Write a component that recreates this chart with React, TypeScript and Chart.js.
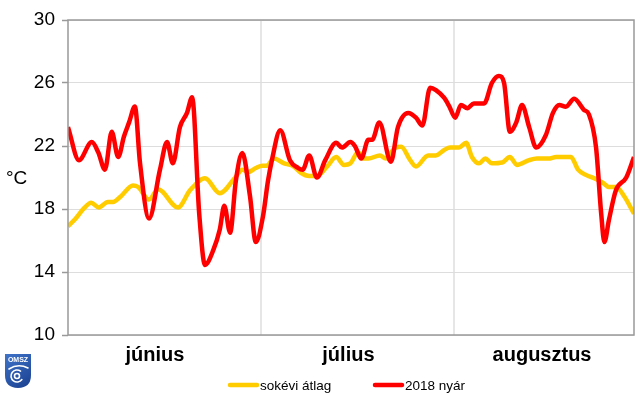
import { useEffect, useRef } from "react";
import { Chart, registerables } from "chart.js";

Chart.register(...registerables);

// Month labels (centered) and month boundaries on a day axis (0 = June 1)
const monthLabels = ["június", "július", "augusztus"];
const monthCenters = [13.5, 43.6, 73.7];
const monthBoundaries = [30, 60];
const dayMin = 0;
const dayMax = 88;

// Y axis
const yMin = 10;
const yMax = 30;
const yStep = 4;
const yTitle = "°C";

// Series: multi-year average (sokévi átlag)
const avgName = "sokévi átlag";
const avgDays = [
  0, 1.2, 2.5, 3.6, 4.8, 6.2, 7.0, 8.2, 10.1, 10.9, 12.6, 14.0, 17.1, 19.0, 21.3,
  23.6, 26.0, 27.1, 28.0, 29.2, 30.2, 30.9, 32.0, 33.6, 35.1, 36.2, 37.5, 38.7,
  40.3, 41.7, 42.9, 43.9, 45.1, 45.9, 46.7, 48.5, 49.4, 50.9, 51.8, 53.2, 54.1,
  56.0, 57.2, 58.5, 59.4, 60.8, 61.9, 62.8, 63.9, 64.9, 65.9, 67.5, 68.7, 69.8,
  71.7, 72.9, 74.7, 75.9, 78.2, 79.3, 80.6, 81.8, 83.2, 84.1, 85.2, 86.5, 88.0,
];
const avgTemps = [
  16.9, 17.4, 18.05, 18.4, 18.1, 18.45, 18.45, 18.8, 19.5, 19.4, 18.6, 19.25, 18.1,
  19.2, 19.95, 19.0, 20.0, 20.5, 20.35, 20.6, 20.75, 20.75, 21.2, 20.9, 20.7, 20.3,
  20.1, 20.1, 20.7, 21.3, 20.8, 20.9, 21.6, 21.2, 21.2, 21.4, 21.2, 21.9, 21.95,
  21.1, 20.7, 21.4, 21.4, 21.75, 21.9, 21.9, 22.2, 21.3, 20.9, 21.2, 20.9, 20.95,
  21.3, 20.8, 21.1, 21.2, 21.2, 21.3, 21.3, 20.5, 20.15, 19.95, 19.65, 19.4, 19.4,
  18.8, 17.7,
];

// Series: summer 2018 (2018 nyár)
const yearName = "2018 nyár";
const yearDays = [
  0, 1.7, 3.7, 4.7, 5.75, 6.8, 7.8, 8.7, 9.5, 10.4, 11.2, 12.6, 14.3, 15.4, 16.3,
  17.4, 18.5, 19.3, 20.4, 21.3, 22.6, 23.6, 24.3, 25.2, 26.1, 27.1, 28.3, 29.2,
  30.3, 31.1, 31.7, 33.0, 34.5, 35.8, 36.5, 37.5, 38.7, 40.0, 41.7, 42.6, 43.9,
  44.6, 45.6, 46.7, 47.3, 48.4, 50.2, 51.3, 52.9, 54.1, 55.1, 56.3, 57.2, 58.5,
  59.3, 60.2, 61.1, 62.1, 63.1, 64.7, 65.9, 67.0, 67.8, 68.7, 69.7, 70.6, 71.7,
  72.8, 74.3, 75.4, 76.4, 77.4, 78.7, 80.2, 81.0, 82.1, 82.9, 83.4, 84.1, 85.2,
  86.8, 88.0,
];
const yearTemps = [
  23.2, 21.1, 22.25, 21.6, 20.5, 22.9, 21.3, 22.6, 23.5, 24.5, 20.9, 17.4, 20.5,
  22.25, 20.9, 23.2, 24.1, 25.1, 17.7, 14.45, 15.4, 16.7, 18.2, 16.5, 19.8, 21.55,
  18.8, 15.9, 17.5, 19.8, 21.1, 23.0, 21.1, 20.6, 20.5, 21.4, 20.0, 21.1, 22.2,
  21.9, 22.25, 22.0, 21.2, 22.4, 22.4, 23.5, 21.0, 23.2, 24.1, 23.8, 23.3, 25.7,
  25.55, 25.05, 24.5, 23.8, 24.6, 24.4, 24.7, 24.7, 26.0, 26.45, 26.0, 22.9, 23.5,
  24.6, 23.2, 21.9, 22.7, 24.1, 24.6, 24.5, 25.0, 24.3, 24.0, 21.9, 17.7, 15.9,
  17.3, 19.2, 20.0, 21.3,
];

const avgColor = "#ffcc00";
const yearColor = "#ff0000";
const FONT = "'Liberation Sans', Arial, sans-serif";

const decorPlugin = {
  id: "decor",
  afterDatasetsDraw(chart: any) {
    const { ctx, chartArea } = chart;
    ctx.save();
    // box border
    ctx.strokeStyle = "#999999";
    ctx.lineWidth = 1.5;
    ctx.strokeRect(chartArea.left, chartArea.top, chartArea.right - chartArea.left, chartArea.bottom - chartArea.top);
    ctx.restore();
  },
  afterDraw(chart: any) {
    const { ctx } = chart;
    ctx.save();
    // y title
    ctx.fillStyle = "#000";
    ctx.font = `19px ${FONT}`;
    ctx.textAlign = "left";
    ctx.textBaseline = "middle";
    ctx.fillText(yTitle, 6, 179);

    // legend
    const legendY = 385;
    const items = [
      { x: 228, color: avgColor, text: avgName },
      { x: 373, color: yearColor, text: yearName },
    ];
    ctx.font = `13.5px ${FONT}`;
    for (const it of items) {
      ctx.strokeStyle = it.color;
      ctx.lineWidth = 4.5;
      ctx.lineCap = "round";
      ctx.beginPath();
      ctx.moveTo(it.x + 2, legendY);
      ctx.lineTo(it.x + 29, legendY);
      ctx.stroke();
      ctx.fillStyle = "#000";
      ctx.fillText(it.text, it.x + 32, legendY + 1);
    }

    // logo (simplified OMSZ shield)
    const lx = 5, ly = 354, lw = 26, lh = 34;
    const grad = ctx.createLinearGradient(lx, ly, lx + lw, ly + lh);
    grad.addColorStop(0, "#3f74c9");
    grad.addColorStop(1, "#1a3f8f");
    ctx.fillStyle = grad;
    ctx.beginPath();
    ctx.moveTo(lx, ly);
    ctx.lineTo(lx + lw, ly);
    ctx.lineTo(lx + lw, ly + lh * 0.62);
    ctx.quadraticCurveTo(lx + lw, ly + lh, lx + lw / 2, ly + lh);
    ctx.quadraticCurveTo(lx, ly + lh, lx, ly + lh * 0.62);
    ctx.closePath();
    ctx.fill();
    ctx.fillStyle = "#fff";
    ctx.font = `bold 7px ${FONT}`;
    ctx.textAlign = "center";
    ctx.fillText("OMSZ", lx + lw / 2, ly + 6);
    ctx.strokeStyle = "#fff";
    ctx.lineWidth = 1.6;
    ctx.lineCap = "round";
    ctx.beginPath();
    ctx.arc(lx + lw / 2 - 1, ly + 22, 6, Math.PI * 0.2, Math.PI * 1.7);
    ctx.stroke();
    ctx.beginPath();
    ctx.arc(lx + lw / 2 - 1, ly + 22, 2.5, 0, Math.PI * 2);
    ctx.stroke();
    ctx.beginPath();
    ctx.moveTo(lx + 4, ly + 15);
    ctx.quadraticCurveTo(lx + lw / 2, ly + 9, lx + lw - 3, ly + 14);
    ctx.stroke();
    ctx.restore();
  },
};

export default function App() {
  const canvasRef = useRef<HTMLCanvasElement | null>(null);

  useEffect(() => {
    document.body.style.margin = "0";
    const canvas = canvasRef.current;
    if (!canvas) return;

    const chart = new Chart(canvas, {
      type: "line",
      data: {
        datasets: [
          {
            label: yearName,
            data: yearDays.map((d, i) => ({ x: d, y: yearTemps[i] })),
            borderColor: yearColor,
            borderWidth: 4.5,
            pointRadius: 0,
            tension: 0.4,
            cubicInterpolationMode: "monotone",
            order: 0,
          },
          {
            label: avgName,
            data: avgDays.map((d, i) => ({ x: d, y: avgTemps[i] })),
            borderColor: avgColor,
            borderWidth: 4.5,
            pointRadius: 0,
            tension: 0.4,
            cubicInterpolationMode: "monotone",
            order: 1,
          },
        ],
      },
      options: {
        responsive: false,
        animation: false,
        devicePixelRatio: 1,
        layout: { padding: { top: 20, right: 6, left: 0, bottom: 0 } },
        plugins: {
          legend: { display: false },
          tooltip: { enabled: false },
        },
        scales: {
          x: {
            type: "linear",
            min: dayMin,
            max: dayMax,
            afterBuildTicks: (scale: any) => {
              const vals = [...monthCenters, ...monthBoundaries].sort((a, b) => a - b);
              scale.ticks = vals.map((v) => ({ value: v }));
            },
            afterFit: (scale: any) => {
              scale.height = 63;
            },
            ticks: {
              autoSkip: false,
              maxRotation: 0,
              padding: 8,
              color: "#000",
              font: { family: FONT, size: 20, weight: "bold" },
              callback: (value: any) => {
                const idx = monthCenters.indexOf(Number(value));
                return idx >= 0 ? monthLabels[idx] : "";
              },
            },
            grid: {
              drawTicks: false,
              lineWidth: 2,
              color: (ctx: any) =>
                ctx.tick && monthBoundaries.includes(ctx.tick.value) ? "#e6e6e6" : "rgba(0,0,0,0)",
            },
            border: { display: false },
          },
          y: {
            min: yMin,
            max: yMax,
            afterFit: (scale: any) => {
              scale.width = 68;
            },
            ticks: {
              stepSize: yStep,
              padding: 7,
              color: "#000",
              font: { family: FONT, size: 19 },
            },
            grid: {
              color: "#dddddd",
              lineWidth: 1,
              tickLength: 6,
              tickColor: "#999999",
              tickWidth: 1.5,
            },
            border: { display: false },
          },
        },
      },
      plugins: [decorPlugin],
    } as any);

    return () => chart.destroy();
  }, []);

  return (
    <div style={{ position: "absolute", left: 0, top: 0, width: 640, height: 398, background: "#fff" }}>
      <canvas ref={canvasRef} width={640} height={398} style={{ display: "block" }} />
    </div>
  );
}
